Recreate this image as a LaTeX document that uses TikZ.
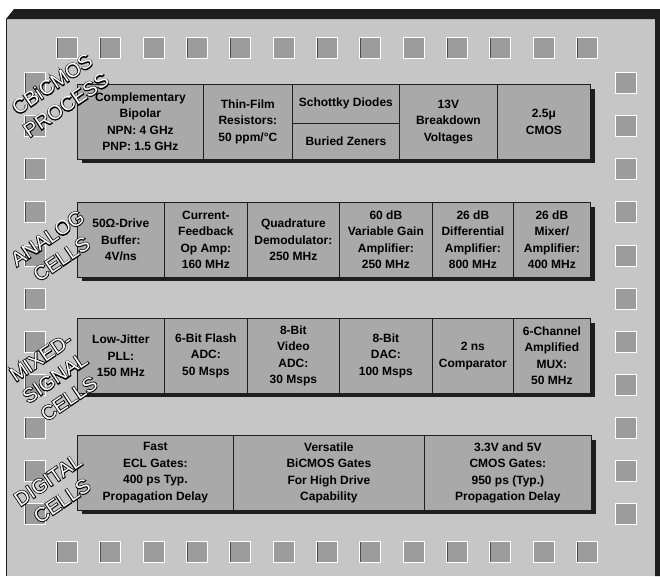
\documentclass[tikz,border=0pt]{standalone}
\usepackage{fontspec}
\setmainfont{Liberation Sans}
\newfontfamily\lblstroke[FakeBold=8]{Liberation Sans}
\definecolor{chip}{HTML}{C6C6C6}
\definecolor{cellgray}{HTML}{A9A9A9}
\definecolor{padgray}{HTML}{9C9C9C}
\definecolor{edge}{HTML}{1E1E1E}
\newcommand{\outl}[1]{\rlap{\lblstroke\color{black}#1}\textcolor{white}{#1}}
\tikzset{
  pad/.style={draw=white, line width=0.8pt, fill=padgray, minimum width=21pt, minimum height=21pt, inner sep=0pt,
    path picture={\draw[edge!80, line width=2.5pt] (path picture bounding box.north west) -- (path picture bounding box.south west);}},
  cell/.style={draw=edge, line width=0.7pt, fill=cellgray, minimum height=75pt, inner sep=0pt, anchor=north west,
    align=center, font=\bfseries\fontsize{12}{16.5}\selectfont},
  rowshadow/.style={fill=edge},
  chiplabel/.style={rotate=34, align=center, font=\fontsize{20}{25}\selectfont, inner sep=0pt}
}
\begin{document}
\begin{tikzpicture}[x=1pt,y=-1pt]
\useasboundingbox (0,0) rectangle (660,576);
\fill[white] (0,0) rectangle (660,576);
% chip body
\fill[chip] (6,19) rectangle (655,576);
\draw[edge, line width=1pt] (6.5,19) -- (6.5,576);
\fill[edge] (6,19) -- (14,9) -- (660,9) -- (660,576) -- (655,576) -- (655,19) -- cycle;
% pads
\foreach \i in {0,...,12} {
  \node[pad] (pt\i) at ({67+43.33*\i},47.5) {};
  \node[pad] (pb\i) at ({67+43.33*\i},552) {};
}
\foreach \j in {0,...,10} {
  \node[pad] (pl\j) at (35,{83+43.1*\j}) {};
  \node[pad] (pr\j) at (625.5,{83+43.1*\j}) {};
}
% row shadows
\fill[rowshadow] (82,89) rectangle (595,163);
\fill[rowshadow] (82,207) rectangle (595,281);
\fill[rowshadow] (82,323) rectangle (595,397);
\fill[rowshadow] (82,440) rectangle (596,514);
% row 1: process
\node[cell, minimum width=126pt] (cbip) at (77,84) {Complementary\\Bipolar\\NPN: 4 GHz\\PNP: 1.5 GHz};
\node[cell, minimum width=89pt] (tfr) at (203,84) {Thin-Film\\Resistors:\\50 ppm/°C};
\node[cell, minimum width=107pt, minimum height=39pt] (sch) at (292,84) {Schottky Diodes};
\node[cell, minimum width=107pt, minimum height=36pt] (bz) at (292,123) {Buried Zeners};
\node[cell, minimum width=98pt] (bv) at (399,84) {13V\\Breakdown\\Voltages};
\node[cell, minimum width=93pt] (cm) at (497,84) {2.5μ\\CMOS};
% row 2: analog
\node[cell, minimum width=87pt] (a1) at (77,202) {50Ω-Drive\\Buffer:\\4V/ns};
\node[cell, minimum width=83pt] (a2) at (164,202) {Current-\\Feedback\\Op Amp:\\160 MHz};
\node[cell, minimum width=92pt] (a3) at (247,202) {Quadrature\\Demodulator:\\250 MHz};
\node[cell, minimum width=93pt] (a4) at (339,202) {60 dB\\Variable Gain\\Amplifier:\\250 MHz};
\node[cell, minimum width=81pt] (a5) at (432,202) {26 dB\\Differential\\Amplifier:\\800 MHz};
\node[cell, minimum width=77pt] (a6) at (513,202) {26 dB\\Mixer/\\Amplifier:\\400 MHz};
% row 3: mixed-signal
\node[cell, minimum width=87pt] (m1) at (77,318) {Low-Jitter\\PLL:\\150 MHz};
\node[cell, minimum width=83pt] (m2) at (164,318) {6-Bit Flash\\ADC:\\50 Msps};
\node[cell, minimum width=92pt] (m3) at (247,318) {8-Bit\\Video\\ADC:\\30 Msps};
\node[cell, minimum width=93pt] (m4) at (339,318) {8-Bit\\DAC:\\100 Msps};
\node[cell, minimum width=81pt] (m5) at (432,318) {2 ns\\Comparator};
\node[cell, minimum width=77pt] (m6) at (513,318) {6-Channel\\Amplified\\MUX:\\50 MHz};
% row 4: digital
\node[cell, minimum width=156pt] (d1) at (77,435) {Fast\\ECL Gates:\\400 ps Typ.\\Propagation Delay};
\node[cell, minimum width=191pt] (d2) at (233,435) {Versatile\\BiCMOS Gates\\For High Drive\\Capability};
\node[cell, minimum width=167pt] (d3) at (424,435) {3.3V and 5V\\CMOS Gates:\\950 ps (Typ.)\\Propagation Delay};
% labels
\node[chiplabel] (lproc) at (59,94.5) {\outl{CBiCMOS}\\\outl{PROCESS}};
\node[chiplabel] (lana) at (54.5,248.5) {\outl{ANALOG}\\\outl{CELLS}};
\node[chiplabel] (lmix) at (55,378) {\outl{MIXED-}\\\outl{SIGNAL}\\\outl{CELLS}};
\node[chiplabel] (ldig) at (55,490.5) {\outl{DIGITAL}\\\outl{CELLS}};
\end{tikzpicture}
\end{document}
